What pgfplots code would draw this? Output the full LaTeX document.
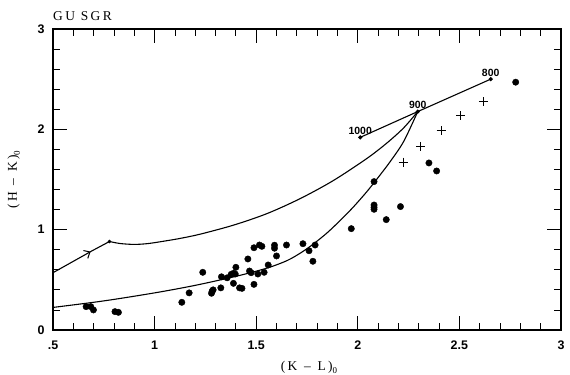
\documentclass[border=0pt]{standalone}
\usepackage{fontspec}
\setmainfont{Liberation Sans}
\newfontfamily\labfont[LetterSpace=18]{Liberation Serif}
\usepackage{pgfplots}
\pgfplotsset{compat=1.18}
\usetikzlibrary{arrows.meta}

\pgfplotstableread{
x y
0.663 0.233
0.686 0.233
0.699 0.20
0.805 0.183
0.822 0.176
1.134 0.276
1.17 0.37
1.237 0.575
1.28 0.366
1.283 0.386
1.288 0.40
1.326 0.42
1.329 0.53
1.357 0.52
1.377 0.555
1.388 0.565
1.397 0.558
1.40 0.625
1.388 0.465
1.418 0.42
1.43 0.415
1.459 0.708
1.467 0.588
1.475 0.571
1.489 0.455
1.489 0.82
1.508 0.558
1.516 0.847
1.528 0.834
1.539 0.575
1.559 0.648
1.59 0.845
1.59 0.815
1.60 0.738
1.649 0.847
1.73 0.86
1.76 0.79
1.79 0.847
1.779 0.685
1.968 1.01
2.08 1.246
2.08 1.223
2.08 1.203
2.14 1.10
2.21 1.23
2.08 1.479
2.35 1.665
2.388 1.585
2.777 2.47
}\dots

\pgfplotstableread{
x y
2.223 1.672
2.31 1.83
2.41 1.984
2.506 2.137
2.618 2.276
}\crosses

\begin{document}
\begin{tikzpicture}
\path (-53bp,-45bp) rectangle (517bp,330bp);
\begin{axis}[
  at={(0,0)}, anchor=south west,
  width=508bp, height=301bp, scale only axis,
  xmin=0.5, xmax=3, ymin=0, ymax=3,
  xtick={0.5,1,1.5,2,2.5,3},
  xticklabels={.5,1,1.5,2,2.5,3},
  ytick={0,1,2,3},
  minor x tick num=4, minor y tick num=4,
  xtick pos=both, ytick pos=both,
  tick align=inside,
  major tick length=14bp, minor tick length=7bp,
  tick style={black, line width=0.8pt},
  axis line style={line width=1.1pt},
  ticklabel style={font=\fontsize{12.5}{14}\selectfont\bfseries},
  xticklabel style={yshift=-7bp},
  yticklabel style={xshift=-5bp},
  /pgf/number format/assume math mode=true,
  clip=false,
]
\addplot[only marks, mark=*, mark size=3.2bp, black] table {\dots};
\addplot[only marks, mark=+, mark size=4.5bp, black, mark options={line width=1pt}] table {\crosses};
\addplot[black, line width=1.1pt, mark=*, mark size=1.5bp] coordinates {(2.012,1.92) (2.295,2.177) (2.654,2.50)};
\addplot[black, line width=1.1pt, smooth] coordinates {
(0.778,0.882) (0.83,0.862) (0.90,0.853) (0.97,0.862) (1.06,0.89) (1.126,0.913) (1.224,0.955)
(1.388,1.045) (1.553,1.16) (1.717,1.31) (1.88,1.49) (2.045,1.71) (2.144,1.865) (2.226,2.015) (2.295,2.177)};
\addplot[black, line width=1.1pt, smooth] coordinates {
(0.5,0.225) (0.75,0.29) (1.0,0.37) (1.2,0.445) (1.4,0.535) (1.55,0.615) (1.65,0.69) (1.72,0.77)
(1.78,0.855) (1.85,0.97) (1.92,1.105) (1.98,1.23) (2.045,1.38) (2.10,1.52) (2.16,1.68) (2.226,1.88) (2.295,2.177)};
\addplot[black, line width=1.1pt, -{Straight Barb[length=5bp,width=9bp,line width=1pt]}] coordinates {(0.5,0.571) (0.685,0.781)};
\addplot[black, line width=1.1pt] coordinates {(0.68,0.776) (0.778,0.882)};
\addplot[only marks, mark=*, mark size=1.5bp, black] coordinates {(0.778,0.882)};
\node[anchor=south, font=\fontsize{10.5}{12}\selectfont\bfseries, inner sep=1bp] at (axis cs:2.012,1.935) {1000};
\node[anchor=south, font=\fontsize{10.5}{12}\selectfont\bfseries, inner sep=1bp] at (axis cs:2.295,2.19) {900};
\node[anchor=south, font=\fontsize{10.5}{12}\selectfont\bfseries, inner sep=1bp] at (axis cs:2.654,2.515) {800};
\node[anchor=base west, font=\labfont\fontsize{13.5}{16}\selectfont, inner sep=0pt] at ([yshift=8bp]rel axis cs:0,1) {GU SGR};
\node[anchor=base, font=\labfont\fontsize{13.5}{16}\selectfont, inner sep=0pt] at ([yshift=-40bp]rel axis cs:0.504,0) {(K\enspace–\enspace L)\raisebox{-3bp}{\fontsize{9}{9}\selectfont 0}};
\node[rotate=90, anchor=base, font=\labfont\fontsize{13.5}{16}\selectfont, inner sep=0pt] at ([xshift=-36bp]rel axis cs:0,0.5) {(H\enspace–\enspace K)\raisebox{-3bp}{\fontsize{9}{9}\selectfont 0}};
\end{axis}
\end{tikzpicture}
\end{document}
